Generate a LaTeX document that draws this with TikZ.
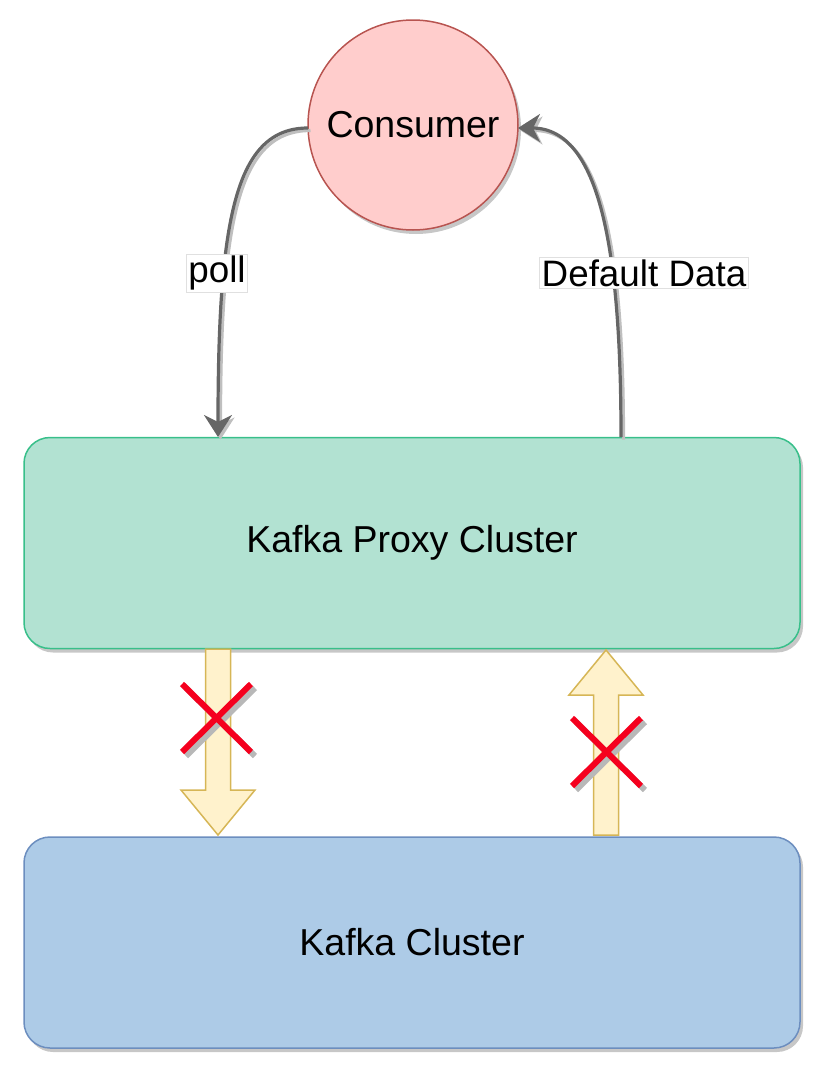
\documentclass[tikz,border=0pt]{standalone}
\usepackage{fontspec}
\setmainfont{Liberation Sans}
\usetikzlibrary{shadows,arrows.meta}
\definecolor{consfill}{HTML}{FFCDCC}
\definecolor{consdraw}{HTML}{B85450}
\definecolor{proxfill}{HTML}{B2E2D2}
\definecolor{proxdraw}{HTML}{38BF8A}
\definecolor{kafill}{HTML}{ADCBE7}
\definecolor{kadraw}{HTML}{6C8EBF}
\definecolor{arrfill}{HTML}{FFF2CC}
\definecolor{arrdraw}{HTML}{D6B656}
\definecolor{edgecol}{HTML}{666666}
\definecolor{xred}{HTML}{F5001E}
\tikzset{
  boxsh/.style={drop shadow={shadow xshift=3pt,shadow yshift=-4pt,fill=black,opacity=0.22}},
  bigbox/.style={rounded corners=26pt,minimum width=776pt,minimum height=211pt,line width=1.5pt,boxsh,
    font=\fontsize{37.5}{42}\selectfont},
  edgeline/.style={draw=edgecol,line width=3.2pt,-{Stealth[length=22pt,width=28pt,inset=7pt]}},
  edgeshadow/.style={draw=black!25,line width=3.2pt,-{Stealth[length=22pt,width=28pt,inset=7pt]},
    transform canvas={shift={(2.5pt,-2.5pt)}}},
  lbl/.style={fill=white,draw=black!12,line width=0.6pt,inner xsep=2pt,inner ysep=2pt,
    font=\fontsize{36.8}{42}\selectfont},
  blockarrow/.style={fill=arrfill,draw=arrdraw,line width=1.5pt},
  xline/.style={draw=xred,line width=6pt},
  xshadow/.style={draw=black!28,line width=6pt,transform canvas={shift={(4pt,-4pt)}}},
}
\begin{document}
\begin{tikzpicture}[x=1pt,y=-1pt]
\useasboundingbox (0,0) rectangle (831,1082);
% nodes
\node[circle,minimum size=210pt,fill=consfill,draw=consdraw,line width=1.5pt,boxsh,
  font=\fontsize{37.5}{42}\selectfont,inner sep=0pt] (consumer) at (413,125) {Consumer};
\node[bigbox,fill=proxfill,draw=proxdraw] (proxy) at (412,543) {Kafka Proxy Cluster};
\node[bigbox,fill=kafill,draw=kadraw] (kafka) at (412,942.5) {Kafka Cluster};
% coordinates for connectors
\coordinate (pollstart) at (308,128);
\coordinate (pollend) at (218,437);
\coordinate (defstart) at (621,437);
\coordinate (defend) at (518,128);
% poll connector
\draw[edgeshadow] (pollstart) .. controls (235,128) and (218,220) .. (pollend);
\draw[edgeline] (pollstart) .. controls (235,128) and (218,220) .. (pollend);
\node[lbl] (polllbl) at (217,273) {poll};
% default data connector
\draw[edgeshadow] (defstart) .. controls (621,250) and (600,128) .. (defend);
\draw[edgeline] (defstart) .. controls (621,250) and (600,128) .. (defend);
\node[lbl] (deflbl) at (644,273) {Default Data};
% block arrows
\draw[blockarrow] (205.5,649) -- (230.5,649) -- (230.5,790) -- (255,790) -- (218,835)
  -- (181,790) -- (205.5,790) -- cycle;
\draw[blockarrow] (593.5,835) -- (618.5,835) -- (618.5,695) -- (643,695) -- (606,650)
  -- (569,695) -- (593.5,695) -- cycle;
% red crosses
\draw[xshadow] (182,684) -- (251,752) (251,684) -- (182,752);
\draw[xline] (182,684) -- (251,752) (251,684) -- (182,752);
\draw[xshadow] (572,718) -- (641,786) (641,718) -- (572,786);
\draw[xline] (572,718) -- (641,786) (641,718) -- (572,786);
\end{tikzpicture}
\end{document}
